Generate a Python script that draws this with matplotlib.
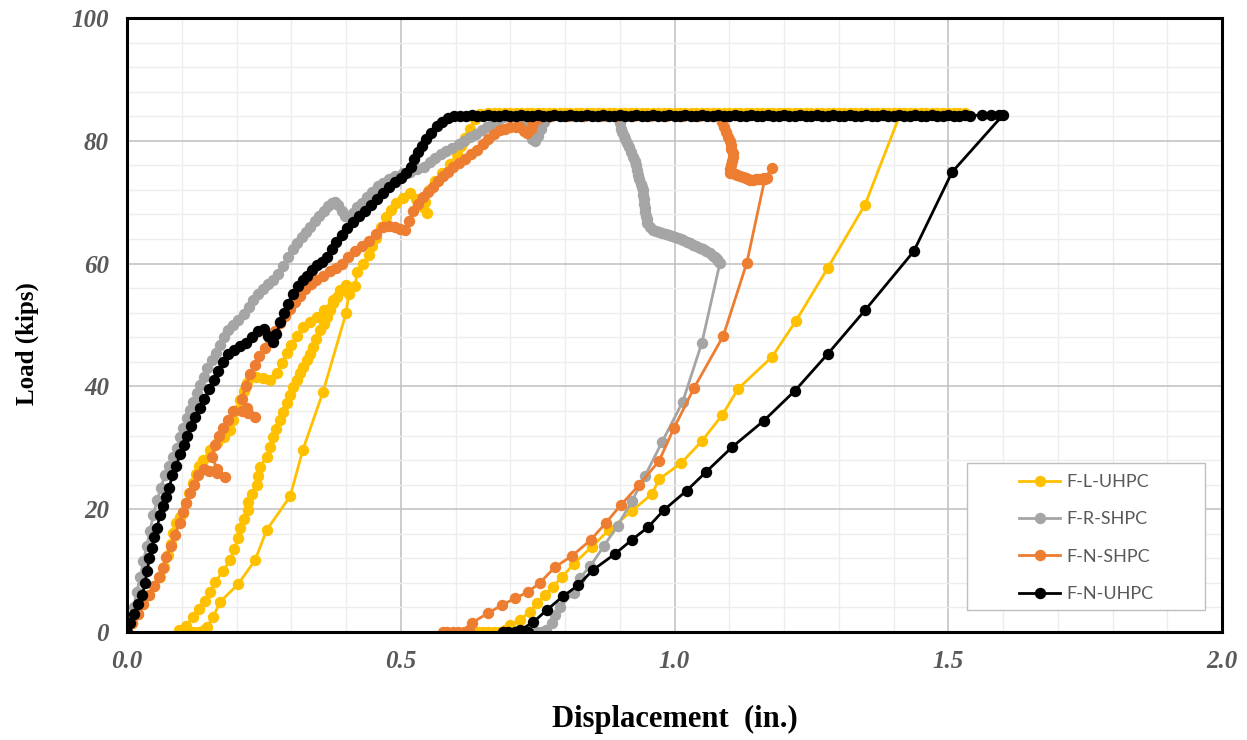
import numpy as np
import matplotlib
matplotlib.use("Agg")
import matplotlib.pyplot as plt
from matplotlib.patches import Rectangle

# ---------------- data (displacement in., load kips) ----------------
series_names = ["F-L-UHPC", "F-R-SHPC", "F-N-SHPC", "F-N-UHPC"]
series_colors = ["#FFC000", "#A5A5A5", "#ED7D31", "#000000"]

# F-L-UHPC (yellow)
yel_load1 = [(0.000, 0.0), (0.010, 1.5), (0.020, 3.0), (0.030, 4.5), (0.040, 6.0), (0.050, 7.5),
             (0.060, 9.0), (0.068, 10.6), (0.075, 12.5), (0.080, 14.3), (0.084, 16.1), (0.090, 17.7),
             (0.096, 18.8), (0.102, 19.4), (0.108, 21.0), (0.114, 22.6), (0.120, 24.2), (0.126, 25.8),
             (0.132, 27.0), (0.139, 28.0), (0.152, 29.6), (0.165, 30.8), (0.178, 31.8), (0.188, 32.9),
             (0.194, 34.5), (0.200, 36.2), (0.206, 37.8), (0.213, 39.2), (0.220, 40.5), (0.225, 41.5),
             (0.236, 41.6), (0.248, 41.3), (0.261, 41.0), (0.274, 42.2), (0.283, 43.8), (0.292, 45.4),
             (0.300, 46.8), (0.310, 48.2), (0.321, 49.7), (0.334, 50.5), (0.347, 51.3), (0.360, 52.5),
             (0.376, 54.0), (0.389, 55.5), (0.400, 56.5)]
yel_unload1 = [(0.389, 55.7), (0.383, 54.6), (0.376, 53.6), (0.370, 52.4), (0.365, 51.3), (0.359, 50.2),
               (0.353, 49.2), (0.346, 47.8), (0.340, 46.4), (0.334, 45.3), (0.329, 44.3), (0.322, 43.2),
               (0.316, 42.2), (0.310, 41.0), (0.303, 39.9), (0.297, 38.6), (0.292, 37.3), (0.285, 35.9),
               (0.279, 34.5), (0.273, 33.1), (0.267, 31.8), (0.261, 30.1), (0.255, 28.5), (0.243, 26.9),
               (0.240, 25.4), (0.237, 23.9), (0.229, 22.5), (0.221, 21.2), (0.221, 19.9), (0.213, 18.4),
               (0.206, 16.9), (0.203, 15.3), (0.196, 13.5), (0.188, 11.7), (0.175, 9.9), (0.161, 8.1),
               (0.152, 6.5), (0.142, 5.0), (0.131, 3.7), (0.120, 2.4), (0.108, 1.0), (0.095, 0.3),
               (0.100, 0.0), (0.110, 0.0), (0.120, 0.0), (0.130, 0.0), (0.140, 0.3), (0.146, 0.8)]
yel_reload = [(0.157, 2.4), (0.170, 4.9), (0.203, 7.8), (0.234, 11.7), (0.255, 16.6), (0.298, 22.1),
              (0.321, 29.6), (0.358, 39.1), (0.400, 51.9), (0.405, 55.0), (0.417, 56.3), (0.420, 58.6),
              (0.431, 60.0), (0.442, 61.4), (0.448, 62.8), (0.455, 64.2), (0.464, 66.0), (0.473, 67.6),
              (0.482, 68.8), (0.492, 69.8), (0.505, 70.7), (0.517, 71.5), (0.528, 70.5), (0.540, 69.2),
              (0.548, 68.3), (0.545, 70.0), (0.552, 72.0), (0.562, 73.5), (0.575, 74.8), (0.590, 76.2),
              (0.602, 77.8), (0.610, 79.2), (0.618, 80.4), (0.627, 82.0), (0.636, 83.5), (0.645, 84.3)]
yel_plateau = [(0.66, 84.5), (0.67, 84.5), (0.68, 84.5), (0.69, 84.5), (0.70, 84.5), (0.71, 84.5), (0.72, 84.5), (0.73, 84.5),
               (0.74, 84.5), (0.75, 84.5), (0.76, 84.5), (0.77, 84.5), (0.78, 84.5), (0.79, 84.5), (0.80, 84.5), (0.81, 84.5),
               (0.82, 84.5), (0.83, 84.5), (0.84, 84.5), (0.85, 84.5), (0.86, 84.5), (0.87, 84.5), (0.88, 84.5), (0.89, 84.5),
               (0.90, 84.5), (0.91, 84.5), (0.92, 84.5), (0.93, 84.5), (0.94, 84.5), (0.95, 84.5), (0.96, 84.5), (0.97, 84.5),
               (0.98, 84.5), (0.99, 84.5), (1.00, 84.5), (1.01, 84.5), (1.02, 84.5), (1.03, 84.5), (1.04, 84.5), (1.05, 84.5),
               (1.06, 84.5), (1.07, 84.5), (1.08, 84.5), (1.09, 84.5), (1.10, 84.5), (1.11, 84.5), (1.12, 84.5), (1.13, 84.5),
               (1.14, 84.5), (1.15, 84.5), (1.16, 84.5), (1.17, 84.5), (1.18, 84.5), (1.19, 84.5), (1.20, 84.5), (1.21, 84.5),
               (1.22, 84.5), (1.23, 84.5), (1.24, 84.5), (1.25, 84.5), (1.26, 84.5), (1.27, 84.5), (1.28, 84.5), (1.29, 84.5),
               (1.30, 84.5), (1.31, 84.5), (1.32, 84.5), (1.33, 84.5), (1.34, 84.5), (1.35, 84.5), (1.36, 84.5), (1.37, 84.5),
               (1.38, 84.5), (1.39, 84.5), (1.40, 84.5), (1.41, 84.5), (1.42, 84.5), (1.43, 84.5), (1.44, 84.5), (1.45, 84.5),
               (1.46, 84.5), (1.47, 84.5), (1.48, 84.5), (1.49, 84.5), (1.50, 84.5), (1.51, 84.5), (1.52, 84.5), (1.53, 84.5),
               (1.48, 84.4), (1.44, 84.4), (1.412, 84.3)]
yel_unload2 = [(1.348, 69.6), (1.280, 59.3), (1.222, 50.7), (1.178, 44.8), (1.116, 39.6), (1.087, 35.3),
               (1.050, 31.1), (1.012, 27.5), (0.972, 24.9), (0.959, 22.5), (0.922, 19.7), (0.880, 16.6),
               (0.849, 13.9), (0.816, 11.1), (0.795, 9.0), (0.778, 7.4), (0.763, 6.0), (0.749, 4.7),
               (0.736, 3.3), (0.718, 2.0), (0.700, 1.1), (0.690, 0.3), (0.680, 0.0), (0.670, 0.0),
               (0.660, 0.0), (0.650, 0.0), (0.642, 0.0)]

# F-R-SHPC (gray)
gry_load = [(0.000, 0.0), (0.006, 2.0), (0.012, 4.0), (0.018, 6.5), (0.024, 9.0), (0.030, 11.5),
            (0.036, 14.0), (0.042, 16.5), (0.048, 19.0), (0.055, 21.5), (0.062, 23.5), (0.069, 25.5),
            (0.077, 27.0), (0.084, 28.5), (0.091, 30.0), (0.097, 31.8), (0.103, 33.3), (0.109, 34.8),
            (0.115, 36.2), (0.121, 37.5), (0.128, 39.0), (0.134, 40.3), (0.140, 41.5), (0.147, 43.0),
            (0.155, 44.3), (0.162, 45.5), (0.170, 46.8), (0.177, 48.0), (0.184, 49.2), (0.193, 50.0),
            (0.203, 50.8), (0.213, 51.8), (0.222, 53.0), (0.231, 54.0), (0.240, 55.0), (0.249, 55.8),
            (0.258, 56.6), (0.267, 57.4), (0.276, 58.3), (0.285, 59.6), (0.294, 61.0), (0.303, 62.3),
            (0.311, 63.3), (0.319, 64.3), (0.327, 65.2), (0.335, 66.0), (0.343, 66.9), (0.351, 67.8),
            (0.360, 68.6), (0.367, 69.3), (0.374, 69.9), (0.380, 70.1), (0.386, 69.5), (0.392, 68.6),
            (0.398, 67.8), (0.405, 67.6), (0.412, 68.3), (0.420, 69.2), (0.429, 69.9), (0.438, 70.8),
            (0.448, 71.7), (0.458, 72.6), (0.467, 73.2), (0.478, 73.8), (0.490, 74.3), (0.505, 74.8),
            (0.517, 75.0), (0.530, 75.4), (0.543, 75.8), (0.553, 76.5), (0.563, 77.2), (0.573, 77.8),
            (0.583, 78.3), (0.594, 78.8), (0.606, 79.4), (0.616, 80.0), (0.627, 80.6), (0.637, 81.1),
            (0.648, 81.7), (0.658, 82.2), (0.668, 82.8), (0.678, 83.3), (0.688, 83.8), (0.698, 84.0),
            (0.708, 84.1), (0.718, 83.8), (0.726, 83.0), (0.733, 81.6), (0.740, 80.3), (0.746, 80.0),
            (0.751, 80.8), (0.756, 82.0), (0.761, 83.0), (0.767, 83.8), (0.775, 84.1)]
gry_plateau = [(0.795, 84.1), (0.815, 84.1), (0.835, 84.1), (0.855, 84.1), (0.875, 84.1), (0.893, 84.0)]
gry_drop = [(0.900, 82.9), (0.903, 82.0), (0.905, 81.5), (0.908, 80.8), (0.910, 80.3), (0.913, 79.6),
            (0.916, 79.0), (0.920, 78.2), (0.924, 77.4), (0.927, 76.7), (0.929, 76.0), (0.932, 75.2),
            (0.934, 74.5), (0.936, 73.8), (0.938, 73.0), (0.940, 72.5), (0.942, 72.0), (0.943, 71.2),
            (0.944, 70.5), (0.945, 69.7), (0.946, 69.0), (0.947, 68.4), (0.948, 67.8), (0.949, 67.2),
            (0.950, 66.6), (0.955, 66.0), (0.961, 65.5), (0.966, 65.3), (0.972, 65.2), (0.978, 65.0),
            (0.984, 64.8), (0.990, 64.6), (0.995, 64.5), (1.000, 64.3), (1.006, 64.1), (1.011, 64.0),
            (1.016, 63.8), (1.022, 63.5), (1.028, 63.3), (1.034, 63.0), (1.040, 62.8), (1.046, 62.5),
            (1.052, 62.3), (1.058, 62.0), (1.065, 61.7), (1.070, 61.3), (1.074, 61.0), (1.077, 60.8),
            (1.080, 60.5), (1.083, 60.1)]
gry_unload = [(1.050, 47.1), (1.015, 37.5), (0.977, 30.9), (0.946, 25.4), (0.922, 21.3), (0.896, 17.3),
              (0.871, 14.0), (0.846, 10.7), (0.827, 8.8), (0.816, 6.4), (0.791, 4.1), (0.782, 2.8),
              (0.776, 1.5), (0.765, 0.3), (0.757, 0.0), (0.748, 0.0)]

# F-N-SHPC (orange)
org_load = [(0.000, 0.0), (0.010, 1.5), (0.020, 3.0), (0.030, 4.5), (0.040, 6.0), (0.050, 7.5),
            (0.058, 9.0), (0.065, 10.5), (0.072, 12.2), (0.080, 14.0), (0.088, 15.8), (0.096, 17.8),
            (0.102, 19.5), (0.108, 21.0), (0.115, 22.6), (0.122, 24.0), (0.130, 25.5), (0.140, 26.5),
            (0.150, 26.2), (0.164, 25.9), (0.179, 25.2), (0.165, 26.5), (0.155, 28.5), (0.160, 30.5),
            (0.168, 32.0), (0.176, 33.2), (0.185, 34.5), (0.194, 36.0), (0.210, 36.0), (0.221, 35.6),
            (0.234, 35.0), (0.220, 36.5), (0.210, 38.0), (0.217, 40.0), (0.225, 42.0), (0.233, 43.5),
            (0.242, 45.0), (0.252, 46.3), (0.262, 47.6), (0.270, 49.0), (0.279, 50.3), (0.288, 51.5),
            (0.297, 52.6), (0.306, 53.7), (0.316, 54.8), (0.326, 55.8), (0.336, 56.6), (0.346, 57.3),
            (0.358, 58.0), (0.370, 58.8), (0.381, 59.3), (0.392, 60.0), (0.404, 61.0), (0.417, 62.0),
            (0.430, 62.8), (0.442, 63.6), (0.455, 64.8), (0.467, 65.9), (0.478, 66.2), (0.490, 65.9),
            (0.499, 65.6), (0.507, 65.5), (0.515, 67.0), (0.523, 68.5), (0.532, 69.7), (0.541, 70.8),
            (0.550, 71.7), (0.559, 72.5), (0.568, 73.4), (0.577, 74.2), (0.586, 75.0), (0.595, 75.7),
            (0.606, 76.4), (0.617, 77.1), (0.628, 77.8), (0.639, 78.5), (0.650, 79.4), (0.660, 80.3),
            (0.671, 81.1), (0.681, 81.8), (0.690, 82.0), (0.700, 82.2), (0.710, 82.3), (0.718, 82.2),
            (0.725, 81.6), (0.731, 81.3), (0.737, 82.0), (0.742, 82.9), (0.748, 83.6), (0.755, 84.0)]
org_plateau = [(0.775, 84.1), (0.805, 84.1), (0.835, 84.1), (0.865, 84.1), (0.895, 84.1), (0.925, 84.1),
               (0.955, 84.1), (0.985, 84.1), (1.015, 84.1), (1.045, 84.1), (1.070, 84.1), (1.084, 83.9)]
org_drop = [(1.087, 83.0), (1.090, 82.2), (1.094, 81.5), (1.098, 80.7), (1.101, 80.0), (1.103, 79.3),
            (1.104, 78.7), (1.106, 78.0), (1.107, 77.4), (1.105, 76.7), (1.104, 76.0), (1.102, 75.4),
            (1.101, 74.8), (1.106, 74.7), (1.110, 74.6), (1.115, 74.4), (1.120, 74.3), (1.125, 74.1),
            (1.130, 74.0), (1.134, 73.8), (1.138, 73.6), (1.143, 73.6), (1.148, 73.7), (1.153, 73.7),
            (1.158, 73.8), (1.164, 73.9), (1.169, 74.0), (1.178, 75.6), (1.165, 73.8)]
org_unload = [(1.132, 60.1), (1.089, 48.2), (1.036, 39.8), (0.999, 33.2), (0.972, 27.9), (0.935, 23.9),
              (0.902, 20.7), (0.875, 17.8), (0.847, 15.0), (0.813, 12.4), (0.782, 10.6), (0.754, 8.0),
              (0.732, 6.5), (0.709, 5.5), (0.685, 4.4), (0.660, 3.1), (0.630, 1.5), (0.625, 0.3),
              (0.615, 0.0), (0.605, 0.0), (0.595, 0.0), (0.585, 0.0), (0.578, 0.0)]

# F-N-UHPC (black)
blk_load = [(0.000, 0.0), (0.005, 1.5), (0.012, 3.0), (0.020, 4.5), (0.028, 6.0), (0.033, 8.0),
            (0.037, 10.0), (0.041, 12.0), (0.045, 13.6), (0.050, 15.5), (0.055, 17.0), (0.060, 19.0),
            (0.066, 20.5), (0.072, 22.0), (0.077, 23.5), (0.083, 25.5), (0.090, 27.0), (0.097, 29.0),
            (0.104, 30.5), (0.110, 32.0), (0.117, 33.5), (0.124, 35.0), (0.133, 36.5), (0.141, 38.0),
            (0.150, 39.5), (0.158, 41.0), (0.166, 42.5), (0.175, 44.0), (0.185, 45.2), (0.195, 46.0),
            (0.206, 46.5), (0.217, 47.0), (0.228, 48.0), (0.240, 49.0), (0.250, 49.3), (0.258, 48.2),
            (0.266, 47.3), (0.273, 48.5), (0.280, 50.5), (0.287, 52.0), (0.294, 53.5), (0.303, 55.0),
            (0.312, 56.3), (0.321, 57.3), (0.329, 58.0), (0.338, 59.0), (0.347, 59.8), (0.357, 60.3),
            (0.366, 61.0), (0.374, 62.3), (0.382, 63.5), (0.392, 64.7), (0.402, 65.8), (0.413, 66.8),
            (0.423, 67.7), (0.434, 68.6), (0.445, 69.5), (0.456, 70.5), (0.467, 71.5), (0.478, 72.4),
            (0.490, 73.3), (0.500, 74.0), (0.510, 74.8), (0.518, 75.8), (0.524, 77.0), (0.531, 78.2),
            (0.539, 79.2), (0.547, 80.3), (0.556, 81.3), (0.566, 82.4), (0.576, 83.1), (0.587, 83.7),
            (0.598, 84.0), (0.608, 84.1)]
blk_plateau = [(0.62, 84.1), (0.63, 84.2), (0.64, 84.1), (0.65, 84.1), (0.66, 84.2), (0.67, 84.1), (0.68, 84.1), (0.69, 84.2),
               (0.70, 84.1), (0.71, 84.1), (0.72, 84.2), (0.73, 84.1), (0.74, 84.1), (0.75, 84.2), (0.76, 84.1), (0.77, 84.1),
               (0.78, 84.2), (0.79, 84.1), (0.80, 84.1), (0.81, 84.2), (0.82, 84.1), (0.83, 84.1), (0.84, 84.2), (0.85, 84.1),
               (0.86, 84.1), (0.87, 84.2), (0.88, 84.1), (0.89, 84.1), (0.90, 84.2), (0.91, 84.1), (0.92, 84.1), (0.93, 84.2),
               (0.94, 84.1), (0.95, 84.1), (0.96, 84.2), (0.97, 84.1), (0.98, 84.1), (0.99, 84.2), (1.00, 84.1), (1.01, 84.1),
               (1.02, 84.2), (1.03, 84.1), (1.04, 84.1), (1.05, 84.2), (1.06, 84.1), (1.07, 84.1), (1.08, 84.2), (1.09, 84.1),
               (1.10, 84.1), (1.11, 84.2), (1.12, 84.1), (1.13, 84.1), (1.14, 84.2), (1.15, 84.1), (1.16, 84.1), (1.17, 84.2),
               (1.18, 84.1), (1.19, 84.1), (1.20, 84.2), (1.21, 84.1), (1.22, 84.1), (1.23, 84.2), (1.24, 84.1), (1.25, 84.1),
               (1.26, 84.2), (1.27, 84.1), (1.28, 84.1), (1.29, 84.2), (1.30, 84.1), (1.31, 84.1), (1.32, 84.2), (1.33, 84.1),
               (1.34, 84.1), (1.35, 84.2), (1.36, 84.1), (1.37, 84.1), (1.38, 84.2), (1.39, 84.1), (1.40, 84.1), (1.41, 84.2),
               (1.42, 84.1), (1.43, 84.1), (1.44, 84.2), (1.45, 84.1), (1.46, 84.1), (1.47, 84.2), (1.48, 84.1), (1.49, 84.1),
               (1.50, 84.2), (1.51, 84.1), (1.52, 84.1), (1.53, 84.2), (1.54, 84.1), (1.562, 84.2), (1.578, 84.2), (1.592, 84.2),
               (1.600, 84.2)]
blk_unload = [(1.507, 74.9), (1.437, 62.0), (1.348, 52.4), (1.280, 45.3), (1.220, 39.3), (1.163, 34.4),
              (1.105, 30.1), (1.058, 26.1), (1.022, 23.0), (0.981, 19.9), (0.952, 17.1), (0.922, 15.0),
              (0.891, 12.7), (0.851, 10.1), (0.824, 7.6), (0.796, 5.8), (0.767, 3.6), (0.742, 1.6),
              (0.718, 0.3), (0.733, 0.0), (0.720, 0.0), (0.708, 0.0), (0.696, 0.0), (0.686, 0.0)]

series_segments = [
    yel_load1 + yel_unload1 + yel_reload + yel_plateau + yel_unload2,
    gry_load + gry_plateau + gry_drop + gry_unload,
    org_load + org_plateau + org_drop + org_unload,
    blk_load + blk_plateau + blk_unload,
]

x_ticks = [0.0, 0.5, 1.0, 1.5, 2.0]
x_tick_labels = ["0.0", "0.5", "1.0", "1.5", "2.0"]
y_ticks = [0, 20, 40, 60, 80, 100]

# ---------------- figure ----------------
W, H = 1247, 740
fig = plt.figure(figsize=(W / 100, H / 100), dpi=100)
L, R, T, B = 127, 1222, 18, 632
ax = fig.add_axes([L / W, 1 - B / H, (R - L) / W, (B - T) / H])

handles = []
for pts, name, col in zip(series_segments, series_names, series_colors):
    arr = np.array(pts)
    h, = ax.plot(arr[:, 0], arr[:, 1], color=col, lw=2.0, marker="o", ms=8.2,
                 mew=0, label=name, solid_joinstyle="round")
    handles.append(h)

ax.set_xlim(0, 2.0)
ax.set_ylim(0, 100)
ax.set_xticks(x_ticks)
ax.set_xticklabels(x_tick_labels)
ax.set_yticks(y_ticks)
ax.set_xticks(np.linspace(0, 2.0, 21), minor=True)
ax.set_yticks(np.linspace(0, 100, 26), minor=True)
ax.grid(True, which="major", color="#BFBFBF", lw=1.1)
ax.grid(True, which="minor", color="#EDEDED", lw=1.0)
ax.set_axisbelow(True)
ax.tick_params(which="both", length=0)
ax.tick_params(axis="both", which="major", pad=13, labelsize=18, labelcolor="#595959")
for lab in ax.get_xticklabels() + ax.get_yticklabels():
    lab.set_fontfamily("Liberation Serif")
    lab.set_fontweight("bold")
    lab.set_fontstyle("italic")
for sp in ax.spines.values():
    sp.set_color("black")
    sp.set_linewidth(2.2)

ax.set_xlabel("Displacement  (in.)", fontfamily="Liberation Serif", fontweight="bold",
              fontsize=22, color="black")
ax.xaxis.set_label_coords(0.5, -0.118)
ax.set_ylabel("Load (kips)", fontfamily="Liberation Serif", fontweight="bold",
              fontsize=18, color="black")
ax.yaxis.set_label_coords(-0.08, 0.469)

# legend frame and entries
x0 = (967 - L) / (R - L)
y0 = (B - 610) / (B - T)
x1 = (1205 - L) / (R - L)
y1 = (B - 463) / (B - T)
ax.add_patch(Rectangle((x0, y0), x1 - x0, y1 - y0, transform=ax.transAxes,
                       facecolor="white", edgecolor="#BFBFBF", lw=1.0, zorder=5))
leg = ax.legend(handles=handles, loc="upper left",
                bbox_to_anchor=((1019 - L) / (R - L), (B - 474) / (B - T)),
                frameon=False, borderpad=0, borderaxespad=0, handlelength=2.28,
                handletextpad=0.35, labelspacing=1.18,
                prop={"family": "Lato", "size": 13})
leg.set_zorder(6)
for t in leg.get_texts():
    t.set_color("#595959")

fig.savefig("out.png", dpi=100)
